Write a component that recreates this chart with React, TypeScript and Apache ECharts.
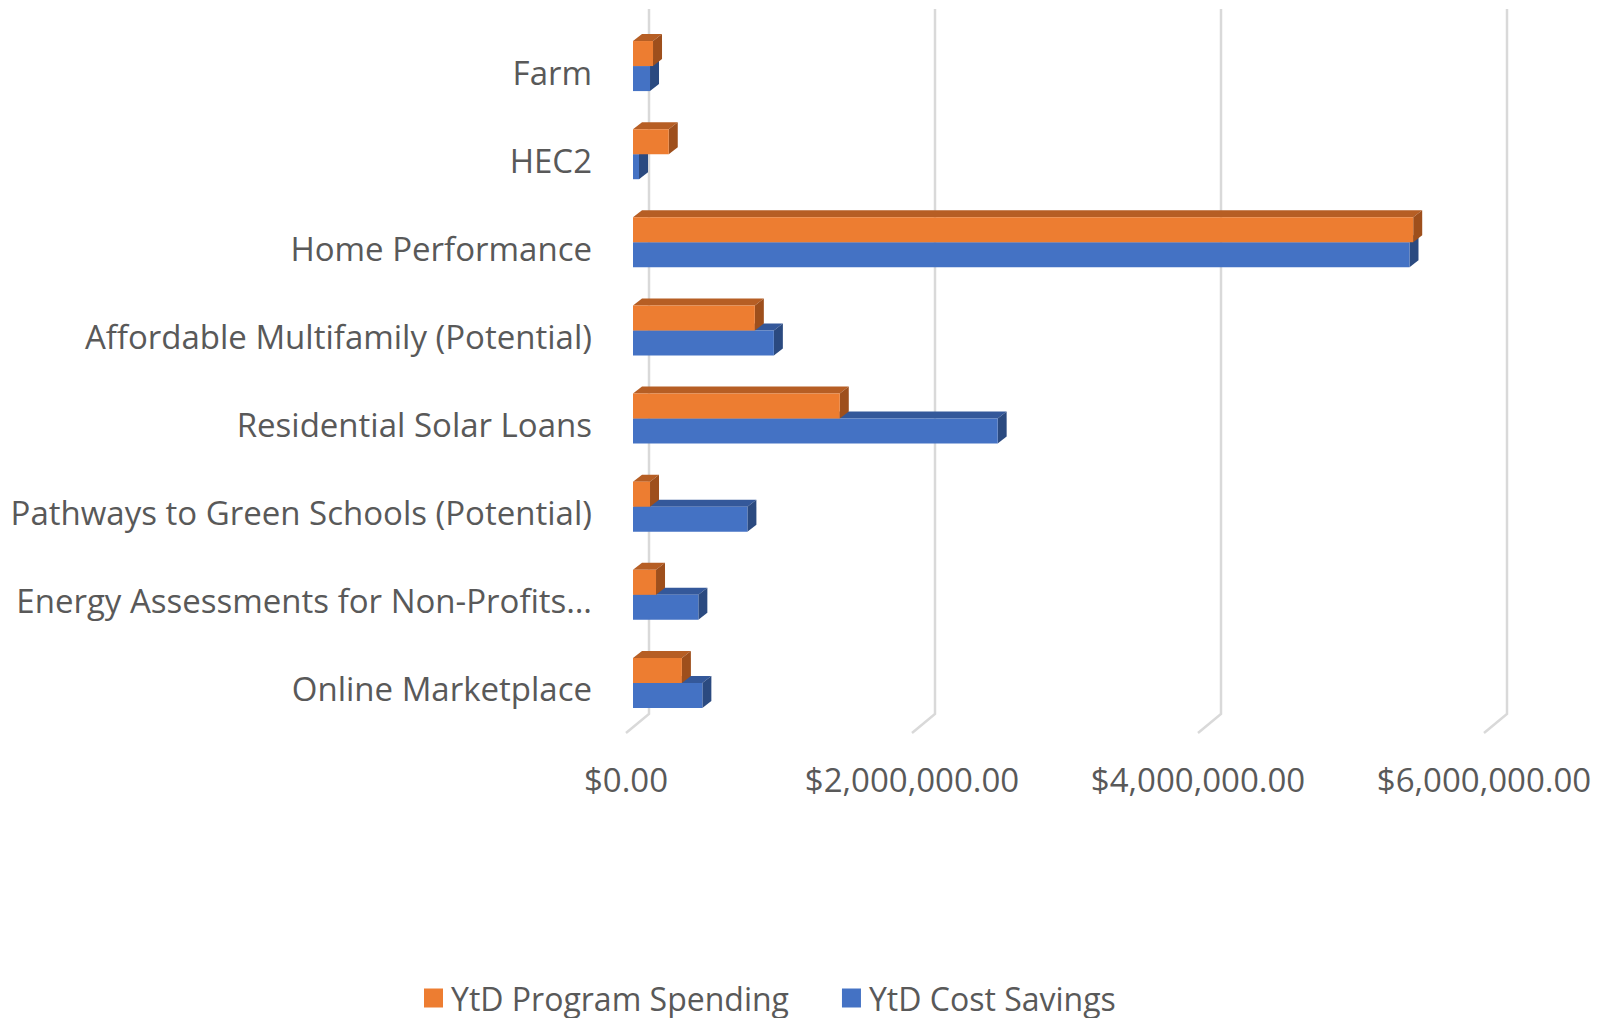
import React, { useEffect, useRef } from "react";
import * as echarts from "echarts";

const categories = [
  "Farm",
  "HEC2",
  "Home Performance",
  "Affordable Multifamily (Potential)",
  "Residential Solar Loans",
  "Pathways to Green Schools (Potential)",
  "Energy Assessments for Non-Profits…",
  "Online Marketplace",
];
const programSpending = [140000, 250000, 5456000, 852000, 1446000, 119000, 161000, 342000];
const costSavings = [119000, 42000, 5430000, 985000, 2550000, 800000, 457000, 485000];
const tickValues = [0, 2000000, 4000000, 6000000];

const FONT = "'Open Sans', sans-serif";
const TEXT = "#595959";
const DX = 9;
const DY = -7;
const LIFT = 6;

function fmt(v: number) {
  return "$" + v.toLocaleString("en-US", { minimumFractionDigits: 2, maximumFractionDigits: 2 });
}

function barRenderer(upper: boolean, front: string, top: string, side: string) {
  return (params: any, api: any) => {
    const v = api.value(0);
    const c = api.value(1);
    const p1 = api.coord([v, c]);
    const p0 = api.coord([0, c]);
    const band = api.size([0, 1])[1];
    const h = band * 0.284;
    const cy = p1[1] - LIFT;
    const x0 = p0[0];
    const x1 = p1[0];
    const y0 = upper ? cy - h : cy;
    const y1 = y0 + h;
    return {
      type: "group",
      children: [
        {
          type: "polygon",
          shape: { points: [[x0, y0], [x1, y0], [x1 + DX, y0 + DY], [x0 + DX, y0 + DY]] },
          style: { fill: top },
        },
        {
          type: "polygon",
          shape: { points: [[x1, y0], [x1 + DX, y0 + DY], [x1 + DX, y1 + DY], [x1, y1]] },
          style: { fill: side },
        },
        {
          type: "rect",
          shape: { x: x0, y: y0, width: x1 - x0, height: h },
          style: { fill: front },
        },
      ],
    };
  };
}

export default function App() {
  const ref = useRef<HTMLDivElement>(null);
  useEffect(() => {
    if (!ref.current) return;
    const chart = echarts.init(ref.current, undefined, { renderer: "svg" });
    chart.setOption({
      animation: false,
      backgroundColor: "#ffffff",
      grid: { left: 633, top: 28, width: 858, height: 705, containLabel: false },
      legend: {
        left: 419,
        top: 977,
        icon: "rect",
        itemWidth: 19,
        itemHeight: 19,
        itemGap: 53,
        data: ["YtD Program Spending", "YtD Cost Savings"],
        textStyle: { fontSize: 32, color: TEXT, fontFamily: FONT, padding: [0, 0, 0, 3], lineHeight: 32 },
      },
      xAxis: {
        type: "value",
        min: 0,
        max: 6000000,
        interval: 2000000,
        splitLine: { show: false },
        axisLine: { show: false },
        axisTick: { show: false },
        axisLabel: {
          formatter: (v: number) => fmt(v),
          margin: 30,
          padding: [0, 14, 0, 0],
          fontSize: 33,
          color: TEXT,
          fontFamily: FONT,
        },
      },
      yAxis: {
        type: "category",
        inverse: true,
        data: categories,
        axisLine: { show: false },
        axisTick: { show: false },
        splitLine: { show: false },
        axisLabel: {
          margin: 41,
          fontSize: 33,
          color: TEXT,
          fontFamily: FONT,
        },
      },
      series: [
        {
          name: "grid",
          type: "custom",
          z: 1,
          silent: true,
          data: tickValues.map((v) => [v, 0]),
          encode: { x: 0, y: 1 },
          renderItem: (params: any, api: any) => {
            const x = api.coord([api.value(0), 0])[0];
            const cs = params.coordSys;
            const topY = cs.y - 19;
            const backBottom = cs.y + cs.height - 19;
            const frontBottom = cs.y + cs.height;
            return {
              type: "polyline",
              shape: { points: [[x + 16, topY], [x + 16, backBottom], [x - 7, frontBottom]] },
              style: { stroke: "#D9D9D9", lineWidth: 2.5, fill: "none" },
            };
          },
        },
        {
          name: "YtD Cost Savings",
          type: "custom",
          z: 2,
          itemStyle: { color: "#4472C4" },
          data: costSavings.map((v, i) => [v, i]),
          encode: { x: 0, y: 1 },
          renderItem: barRenderer(false, "#4472C4", "#34589A", "#2B4A80"),
        },
        {
          name: "YtD Program Spending",
          type: "custom",
          z: 3,
          itemStyle: { color: "#ED7D31" },
          data: programSpending.map((v, i) => [v, i]),
          encode: { x: 0, y: 1 },
          renderItem: barRenderer(true, "#ED7D31", "#B65E24", "#9E4F1C"),
        },
      ],
    });
    return () => chart.dispose();
  }, []);
  return (
    <div
      ref={ref}
      style={{ position: "fixed", left: 0, top: 0, width: 1611, height: 1018 }}
    />
  );
}
